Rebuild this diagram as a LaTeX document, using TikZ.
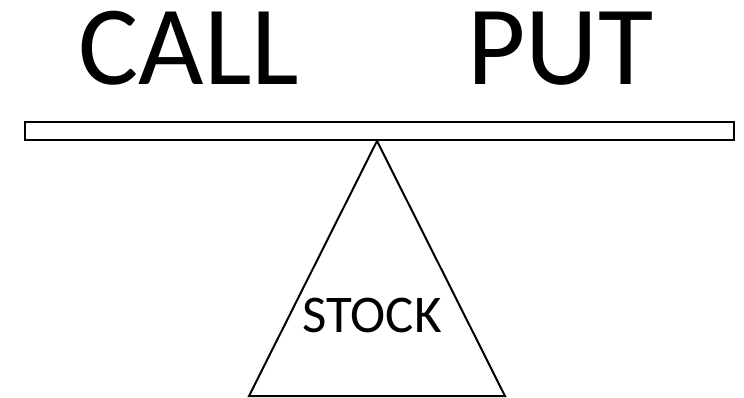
\documentclass[tikz,border=0pt]{standalone}
\usepackage{fontspec}
\setmainfont{Carlito}
\begin{document}
\begin{tikzpicture}[x=1pt,y=-1pt,
  shapeline/.style={draw=black,line width=2pt,line join=miter},
  big/.style={inner sep=0pt,anchor=base,text height=0.66em,text depth=0pt,font=\fontsize{113}{123}\selectfont},
  small/.style={inner sep=0pt,anchor=base,text height=0.66em,text depth=0pt,font=\fontsize{53}{63}\selectfont}]
\useasboundingbox[fill=white] (0,0) rectangle (744,398);
\node[big] (call) at (189,85) {CALL};
\node[big] (put) at (560,85) {PUT};
\draw[shapeline] (25,122) rectangle (734,140);
\coordinate (apex) at (377,141);
\coordinate (bl) at (249,396);
\coordinate (br) at (505,396);
\draw[shapeline] (bl) -- (apex) -- (br) -- cycle;
\node[small] (stock) at (372,332) {STOCK};
\end{tikzpicture}
\end{document}
